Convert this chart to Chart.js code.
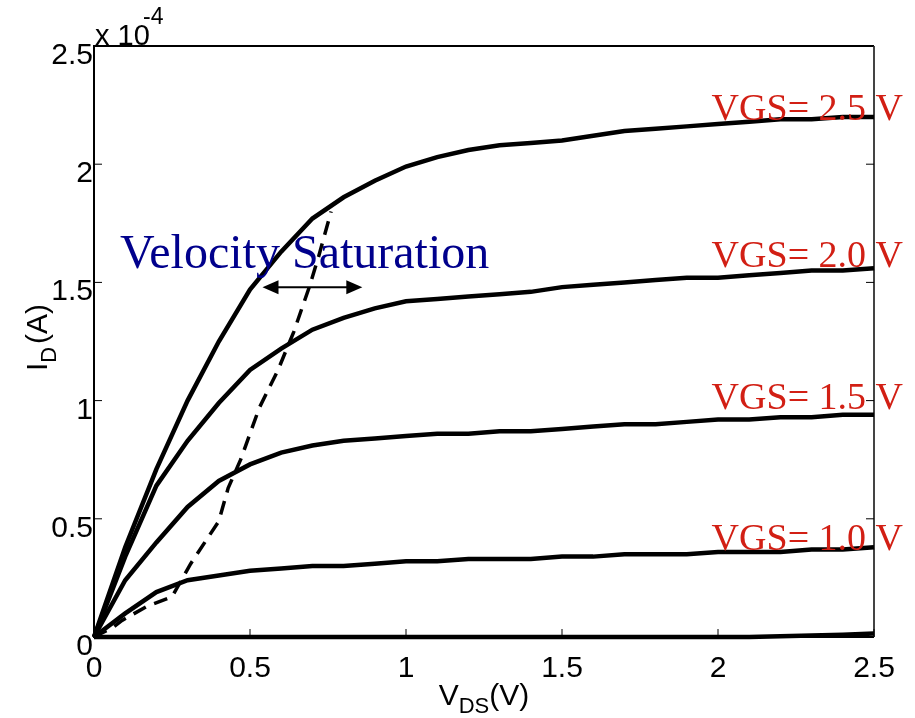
<!DOCTYPE html>
<html>
<head>
<meta charset="utf-8">
<script src="https://cdn.jsdelivr.net/npm/chart.js@4"></script>
<style>
  html, body { margin: 0; padding: 0; background: #fff; }
  #wrap { width: 915px; height: 718px; }
</style>
</head>
<body>
<div id="wrap"><canvas id="myChart" width="915" height="718"></canvas></div>
<script>
// V_DS sample points (V)
const vds = [0, 0.1, 0.2, 0.3, 0.4, 0.5, 0.6, 0.7, 0.8, 0.9, 1.0, 1.1, 1.2, 1.3, 1.4, 1.5, 1.6, 1.7, 1.8, 1.9, 2.0, 2.1, 2.2, 2.3, 2.4, 2.5];
// I_D in units of 1e-4 A
const id25 = [0, 0.38, 0.71, 1.00, 1.25, 1.47, 1.63, 1.77, 1.86, 1.93, 1.99, 2.03, 2.06, 2.08, 2.09, 2.10, 2.12, 2.14, 2.15, 2.16, 2.17, 2.18, 2.19, 2.19, 2.20, 2.20];
const id20 = [0, 0.34, 0.64, 0.83, 0.99, 1.13, 1.22, 1.30, 1.35, 1.39, 1.42, 1.43, 1.44, 1.45, 1.46, 1.48, 1.49, 1.50, 1.51, 1.52, 1.52, 1.53, 1.54, 1.55, 1.55, 1.56];
const id15 = [0, 0.24, 0.40, 0.55, 0.66, 0.73, 0.78, 0.81, 0.83, 0.84, 0.85, 0.86, 0.86, 0.87, 0.87, 0.88, 0.89, 0.90, 0.90, 0.91, 0.92, 0.92, 0.93, 0.93, 0.94, 0.94];
const id10 = [0, 0.10, 0.19, 0.24, 0.26, 0.28, 0.29, 0.30, 0.30, 0.31, 0.32, 0.32, 0.33, 0.33, 0.33, 0.34, 0.34, 0.35, 0.35, 0.35, 0.36, 0.36, 0.36, 0.37, 0.37, 0.38];
const id05 = [0, 0, 0, 0, 0, 0, 0, 0, 0, 0, 0, 0, 0, 0, 0, 0, 0, 0, 0, 0, 0, 0, 0.003, 0.006, 0.010, 0.015];
// velocity-saturation boundary (dashed)
const satX = [0, 0.06, 0.09, 0.17, 0.25, 0.31, 0.36, 0.40, 0.43, 0.47, 0.53, 0.59, 0.64, 0.69, 0.72, 0.76];
const satY = [0, 0.04, 0.07, 0.13, 0.17, 0.31, 0.41, 0.49, 0.63, 0.75, 0.97, 1.13, 1.29, 1.48, 1.61, 1.80];
const xTicks = [0, 0.5, 1, 1.5, 2, 2.5];
const yTicks = [0, 0.5, 1, 1.5, 2, 2.5];
const curveLabels = ['VGS= 2.5 V', 'VGS= 2.0 V', 'VGS= 1.5 V', 'VGS= 1.0 V'];
const labelY = [2.195, 1.575, 0.975, 0.375];

function pts(xs, ys) {
    return xs.map((x, i) => ({ x: x, y: ys[i] }));
}

function curve(ys) {
    return {
        data: pts(vds, ys),
        borderColor: '#000',
        borderWidth: 4.5,
        pointRadius: 0,
        showLine: true,
        tension: 0,
        clip: 6
    };
}

const datasets = [
    curve(id25), curve(id20), curve(id15), curve(id10), curve(id05),
    {
        data: pts(satX, satY),
        borderColor: '#000',
        borderWidth: 3.5,
        borderDash: [14, 9],
        pointRadius: 0,
        showLine: true,
        tension: 0,
        clip: 6
    }
];

const sans = '"Liberation Sans", Arial, sans-serif';
const serif = '"Liberation Serif", "Times New Roman", serif';

const decor = {
    id: 'decor',
    beforeDatasetsDraw(chart) {
        const ctx = chart.ctx;
        const a = chart.chartArea;
        const xs = chart.scales.x, ys = chart.scales.y;
        ctx.save();
        // frame
        ctx.strokeStyle = '#000';
        ctx.lineWidth = 2;
        ctx.beginPath();
        ctx.moveTo(a.right, a.bottom);
        ctx.lineTo(a.left, a.bottom);
        ctx.lineTo(a.left, a.top);
        ctx.lineTo(a.right, a.top);
        ctx.stroke();
        ctx.strokeStyle = '#444';
        ctx.beginPath();
        ctx.moveTo(a.right, a.top);
        ctx.lineTo(a.right, a.bottom);
        ctx.stroke();
        // inward ticks
        ctx.lineWidth = 1;
        ctx.strokeStyle = '#000';
        xTicks.forEach(v => {
            const p = xs.getPixelForValue(v);
            ctx.beginPath();
            ctx.moveTo(p, a.bottom);
            ctx.lineTo(p, a.bottom - 8);
            ctx.stroke();
        });
        yTicks.forEach(v => {
            const p = ys.getPixelForValue(v);
            ctx.beginPath();
            ctx.moveTo(a.left, p);
            ctx.lineTo(a.left + 8, p);
            ctx.stroke();
            ctx.beginPath();
            ctx.moveTo(a.right - 8, p);
            ctx.lineTo(a.right, p);
            ctx.stroke();
        });
        ctx.restore();
    },
    afterDatasetsDraw(chart) {
        const ctx = chart.ctx;
        const a = chart.chartArea;
        const xs = chart.scales.x, ys = chart.scales.y;
        ctx.save();
        ctx.fillStyle = '#000';
        ctx.textBaseline = 'alphabetic';

        // tick labels
        ctx.font = '30px ' + sans;
        ctx.textAlign = 'center';
        xTicks.forEach(v => {
            ctx.fillText(String(v), xs.getPixelForValue(v), a.bottom + 40);
        });
        ctx.textAlign = 'right';
        yTicks.forEach(v => {
            ctx.fillText(String(v), a.left - 1, ys.getPixelForValue(v) + 18);
        });

        // axis multiplier
        ctx.textAlign = 'left';
        ctx.font = '29px ' + sans;
        ctx.fillText('x 10', a.left + 1, a.top - 1);
        ctx.font = '23px ' + sans;
        ctx.fillText('-4', a.left + 49, a.top - 22);

        // axis titles
        ctx.font = '30px ' + sans;
        const xMid = (a.left + a.right) / 2;
        const w1 = ctx.measureText('V').width;
        ctx.font = '22px ' + sans;
        const w2 = ctx.measureText('DS').width;
        ctx.font = '30px ' + sans;
        const w3 = ctx.measureText('(V)').width;
        const sx = xMid - (w1 + w2 + w3) / 2;
        const by = 705;
        ctx.fillText('V', sx, by);
        ctx.font = '22px ' + sans;
        ctx.fillText('DS', sx + w1, by + 8);
        ctx.font = '30px ' + sans;
        ctx.fillText('(V)', sx + w1 + w2, by);

        ctx.save();
        ctx.translate(47, 339);
        ctx.rotate(-Math.PI / 2);
        ctx.font = '30px ' + sans;
        const i1 = ctx.measureText('I').width;
        ctx.font = '22px ' + sans;
        const i2 = ctx.measureText('D').width;
        ctx.font = '30px ' + sans;
        const i3 = ctx.measureText('(A)').width;
        const s = -(i1 + i2 + i3) / 2;
        ctx.fillText('I', s, 0);
        ctx.font = '22px ' + sans;
        ctx.fillText('D', s + i1, 9);
        ctx.font = '30px ' + sans;
        ctx.fillText('(A)', s + i1 + i2 + 3, 0);
        ctx.restore();

        // curve labels
        ctx.fillStyle = '#d21f14';
        ctx.font = '38px ' + serif;
        ctx.textAlign = 'right';
        curveLabels.forEach((t, i) => {
            ctx.fillText(t, a.right + 29, ys.getPixelForValue(labelY[i]) + 2);
        });

        // velocity saturation annotation
        ctx.fillStyle = '#00008c';
        ctx.font = '48px ' + serif;
        ctx.textAlign = 'center';
        ctx.fillText('Velocity Saturation', xs.getPixelForValue(0.675), ys.getPixelForValue(1.56));

        // double arrow
        const x1 = xs.getPixelForValue(0.54), x2 = xs.getPixelForValue(0.86);
        const yA = ys.getPixelForValue(1.48);
        ctx.strokeStyle = '#000';
        ctx.fillStyle = '#000';
        ctx.lineWidth = 2;
        ctx.beginPath();
        ctx.moveTo(x1 + 10, yA);
        ctx.lineTo(x2 - 10, yA);
        ctx.stroke();
        ctx.beginPath();
        ctx.moveTo(x1, yA);
        ctx.lineTo(x1 + 16, yA - 7);
        ctx.lineTo(x1 + 16, yA + 7);
        ctx.closePath();
        ctx.fill();
        ctx.beginPath();
        ctx.moveTo(x2, yA);
        ctx.lineTo(x2 - 16, yA - 7);
        ctx.lineTo(x2 - 16, yA + 7);
        ctx.closePath();
        ctx.fill();
        ctx.restore();
    }
};

const config = {
    type: 'scatter',
    data: { datasets: datasets },
    options: {
        responsive: false,
        animation: false,
        layout: { padding: { top: 46, right: 41, left: 0, bottom: 0 } },
        plugins: { legend: { display: false }, tooltip: { enabled: false } },
        scales: {
            x: {
                type: 'linear',
                min: 0,
                max: 2.5,
                afterBuildTicks: s => { s.ticks = xTicks.map(v => ({ value: v })); },
                afterFit: s => { s.height = 81; },
                grid: { display: false, drawTicks: false },
                border: { display: false },
                ticks: { display: false }
            },
            y: {
                type: 'linear',
                min: 0,
                max: 2.5,
                afterBuildTicks: s => { s.ticks = yTicks.map(v => ({ value: v })); },
                afterFit: s => { s.width = 94; },
                grid: { display: false, drawTicks: false },
                border: { display: false },
                ticks: { display: false }
            }
        }
    },
    plugins: [decor]
};

const myChart = new Chart(document.getElementById('myChart'), config);
</script>
</body>
</html>
